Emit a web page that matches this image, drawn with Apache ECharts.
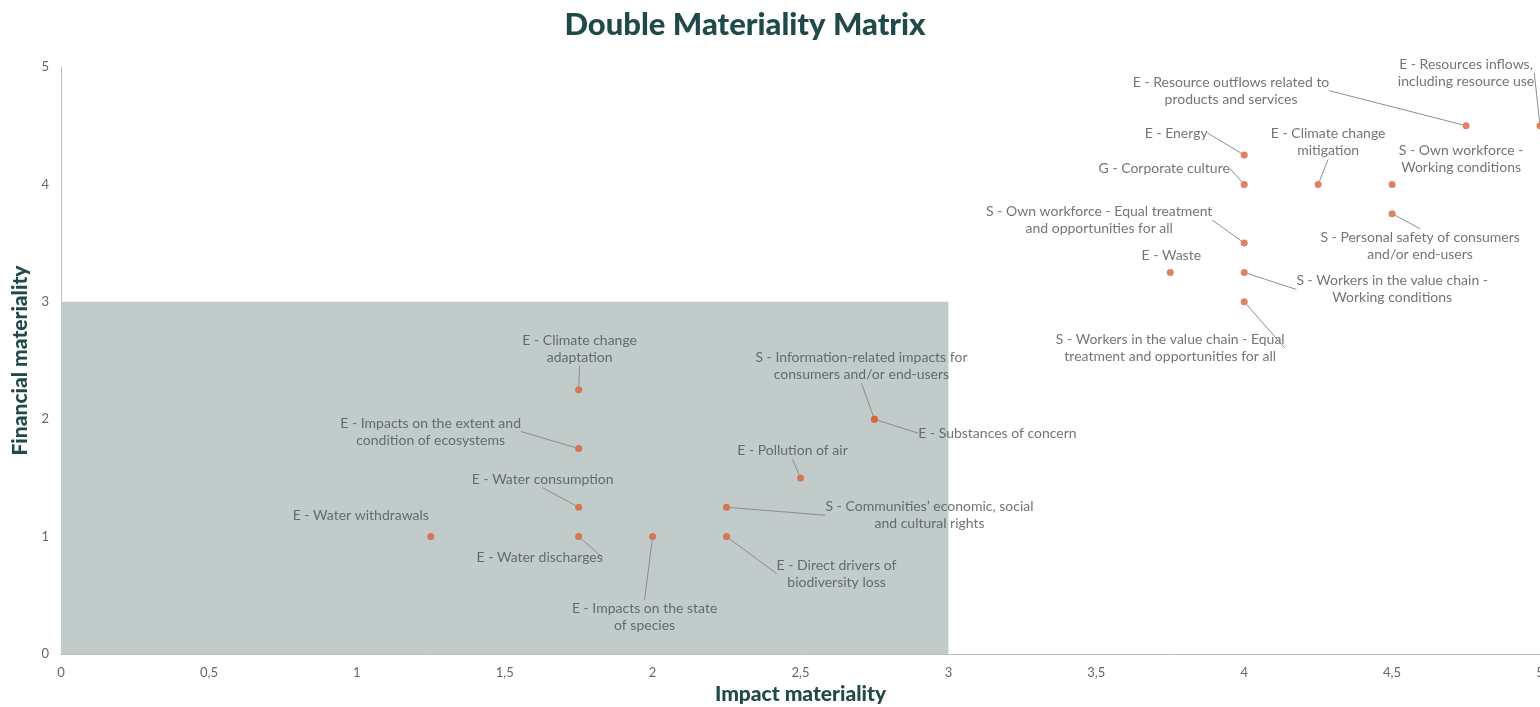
<!DOCTYPE html>
<html>
<head>
<meta charset="utf-8">
<script src="https://cdn.jsdelivr.net/npm/echarts@6/dist/echarts.min.js"></script>
<style>
  html, body { margin: 0; padding: 0; background: #fff; }
  #chart { width: 1540px; height: 707px; }
</style>
</head>
<body>
<div id="chart"></div>
<script>
// Sustainability topics: impact materiality (x) and financial materiality (y)
const topics = [
  'E - Water withdrawals',
  'E - Water discharges',
  'E - Water consumption',
  'E - Impacts on the extent and\ncondition of ecosystems',
  'E - Climate change\nadaptation',
  'E - Impacts on the state\nof species',
  'E - Direct drivers of\nbiodiversity loss',
  'S - Communities\u2019 economic, social\nand cultural rights',
  'E - Pollution of air',
  'S - Information-related impacts for\nconsumers and/or end-users',
  'E - Substances of concern',
  'E - Waste',
  'S - Workers in the value chain - Equal\ntreatment and opportunities for all',
  'S - Workers in the value chain -\nWorking conditions',
  'S - Own workforce - Equal treatment\nand opportunities for all',
  'G - Corporate culture',
  'E - Energy',
  'E - Climate change\nmitigation',
  'S - Own workforce -\nWorking conditions',
  'S - Personal safety of consumers\nand/or end-users',
  'E - Resource outflows related to\nproducts and services',
  'E - Resources inflows,\nincluding resource use'
];
const impact    = [1.25, 1.75, 1.75, 1.75, 1.75, 2, 2.25, 2.25, 2.5, 2.75, 2.75, 3.75, 4, 4, 4, 4, 4, 4.25, 4.5, 4.5, 4.75, 5];
const financial = [1, 1, 1.25, 1.75, 2.25, 1, 1, 1.25, 1.5, 2, 2, 3.25, 3, 3.25, 3.5, 4, 4.25, 4, 4, 3.75, 4.5, 4.5];

// Threshold zone below which topics are not material
const threshold = { impact: 3, financial: 3 };

const xTicks = ['0', '0,5', '1', '1,5', '2', '2,5', '3', '3,5', '4', '4,5', '5'];

// Label placement offsets (pixels from the dot) and whether a leader line is drawn
const labelOffsets = [
  [-70, -21, false], [-39, 21, true], [-36, -28, true], [-148, -17, true],
  [1, -41, true], [-8, 80, true], [110, 37, true], [203, 8, true],
  [-8, -27, true], [-13, -53, true], [123, 14, true], [1, -17, false],
  [-74, 46, true], [148, 17, true], [-145, -23, true], [-80, -16, true],
  [-68, -22, true], [10, -42, true], [69, -25, false], [28, 32, true],
  [-235, -35, true], [-74, -53, true]
];

const FONT = 'Lato, "Noto Sans", sans-serif';

const points = topics.map((name, i) => ({
  name: name,
  value: [impact[i], financial[i]],
  labelLine: { show: labelOffsets[i][2] }
}));

const chart = echarts.init(document.getElementById('chart'));
chart.setOption({
  animation: false,
  title: {
    text: 'Double Materiality Matrix',
    left: 740,
    textAlign: 'center',
    top: 4,
    textStyle: { fontFamily: FONT, fontSize: 31, fontWeight: 900, color: '#1f4a49' }
  },
  grid: { left: 61, right: 0, top: 67, bottom: 53, outerBoundsMode: 'none', containLabel: false },
  xAxis: {
    type: 'value', min: 0, max: 5, interval: 0.5,
    name: 'Impact materiality', nameLocation: 'middle', nameGap: 30,
    nameTextStyle: { fontFamily: FONT, fontSize: 21, fontWeight: 900, color: '#1f4a49' },
    axisLine: { show: true, lineStyle: { color: '#bfbfbf', width: 1 } },
    axisTick: { show: false },
    splitLine: { show: false },
    axisLabel: {
      fontFamily: FONT, fontSize: 13, color: '#666', margin: 12,
      formatter: (v) => xTicks[Math.round(v * 2)]
    }
  },
  yAxis: {
    type: 'value', min: 0, max: 5, interval: 1,
    name: 'Financial materiality', nameLocation: 'middle', nameGap: 23, nameRotate: 90,
    nameTextStyle: { fontFamily: FONT, fontSize: 21, fontWeight: 900, color: '#1f4a49' },
    axisLine: { show: true, lineStyle: { color: '#bfbfbf', width: 1 } },
    axisTick: { show: false },
    splitLine: { show: false },
    axisLabel: { fontFamily: FONT, fontSize: 13, color: '#666', margin: 12 }
  },
  series: [{
    type: 'scatter',
    symbol: 'circle',
    symbolSize: 7,
    itemStyle: { color: '#d9623b' },
    data: points,
    label: {
      show: true,
      position: 'inside',
      formatter: '{b}',
      fontFamily: FONT,
      fontSize: 14,
      lineHeight: 17,
      color: '#4a5455',
      align: 'center'
    },
    labelLine: {
      show: true,
      lineStyle: { color: '#8a8f8f', width: 1 }
    },
    labelLayout: (params) => ({
      dx: labelOffsets[params.dataIndex][0],
      dy: labelOffsets[params.dataIndex][1]
    }),
    markArea: {
      silent: true,
      itemStyle: { color: '#c1cbc9' },
      data: [[{ coord: [0, 0] }, { coord: [threshold.impact, threshold.financial] }]]
    },
    z: 3
  }]
});
</script>
</body>
</html>
